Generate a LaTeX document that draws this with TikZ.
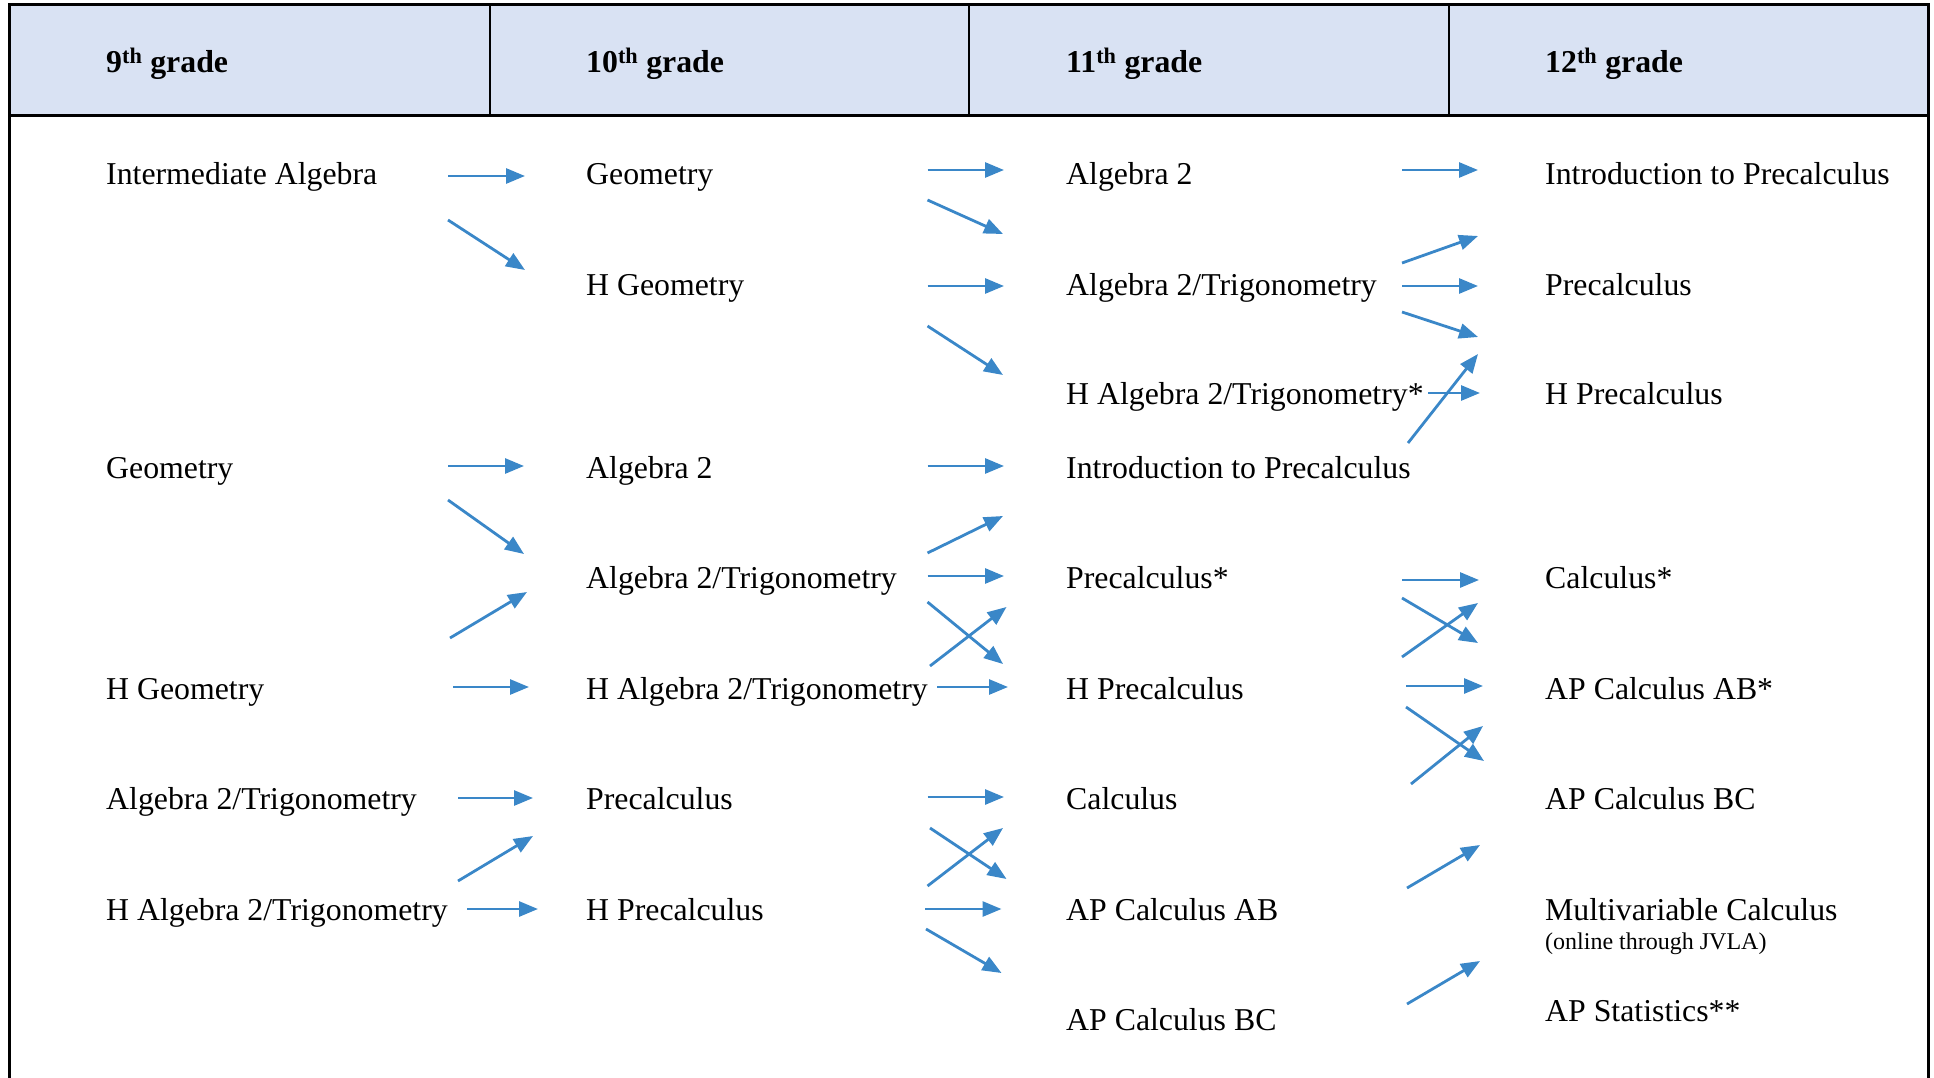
\documentclass[tikz,border=0pt]{standalone}
\usepackage{fontspec}
\setmainfont{Liberation Serif}
\usetikzlibrary{arrows.meta}
\definecolor{hdrfill}{HTML}{D9E2F3}
\definecolor{arblue}{RGB}{58,135,200}
\begin{document}
\begin{tikzpicture}[x=1pt,y=-1pt,
  lbl/.style={anchor=base west,inner sep=0pt,font=\fontsize{31.8}{38}\selectfont},
  smalllbl/.style={anchor=base west,inner sep=0pt,font=\fontsize{24}{28}\selectfont},
  hd/.style={anchor=base west,inner sep=0pt,font=\fontsize{31.8}{38}\selectfont\bfseries},
  arr/.style={draw=arblue,line width=2.8pt,-{Triangle[length=19pt,width=15pt]}},
  border/.style={line width=3pt,line cap=rect},
  divider/.style={line width=2pt}]
\useasboundingbox (0,0) rectangle (1934,1078);
% header
\fill[hdrfill] (9.5,5) rectangle (1928,116);
\draw[divider] (489.7,5) -- (489.7,116);
\draw[divider] (969.4,5) -- (969.4,116);
\draw[divider] (1449.2,5) -- (1449.2,116);
\draw[border] (9.5,1080) -- (9.5,5) -- (1928,5) -- (1928,1080);
\draw[border] (9.5,116) -- (1928,116);
\node[hd] (h9)  at (106,73)  {9\textsuperscript{th} grade};
\node[hd] (h10) at (586,73)  {10\textsuperscript{th} grade};
\node[hd] (h11) at (1066,73) {11\textsuperscript{th} grade};
\node[hd] (h12) at (1545,73) {12\textsuperscript{th} grade};
% column 1
\node[lbl] (a1) at (106,185) {Intermediate Algebra};
\node[lbl] (a2) at (106,478) {Geometry};
\node[lbl] (a3) at (106,699) {H Geometry};
\node[lbl] (a4) at (106,809) {Algebra 2/Trigonometry};
\node[lbl] (a5) at (106,920) {H Algebra 2/Trigonometry};
% column 2
\node[lbl] (b1) at (586,185) {Geometry};
\node[lbl] (b2) at (586,295) {H Geometry};
\node[lbl] (b3) at (586,478) {Algebra 2};
\node[lbl] (b4) at (586,588) {Algebra 2/Trigonometry};
\node[lbl] (b5) at (586,699) {H Algebra 2/Trigonometry};
\node[lbl] (b6) at (586,809) {Precalculus};
\node[lbl] (b7) at (586,920) {H Precalculus};
% column 3
\node[lbl] (c1) at (1066,185) {Algebra 2};
\node[lbl] (c2) at (1066,295) {Algebra 2/Trigonometry};
\node[lbl] (c3) at (1066,404) {H Algebra 2/Trigonometry*};
\node[lbl] (c4) at (1066,478) {Introduction to Precalculus};
\node[lbl] (c5) at (1066,588) {Precalculus*};
\node[lbl] (c6) at (1066,699) {H Precalculus};
\node[lbl] (c7) at (1066,809) {Calculus};
\node[lbl] (c8) at (1066,920) {AP Calculus AB};
\node[lbl] (c9) at (1066,1030) {AP Calculus BC};
% column 4
\node[lbl] (d1) at (1545,185) {Introduction to Precalculus};
\node[lbl] (d2) at (1545,295) {Precalculus};
\node[lbl] (d3) at (1545,404) {H Precalculus};
\node[lbl] (d4) at (1545,588) {Calculus*};
\node[lbl] (d5) at (1545,699) {AP Calculus AB*};
\node[lbl] (d6) at (1545,809) {AP Calculus BC};
\node[lbl] (d7) at (1545,920) {Multivariable Calculus};
\node[smalllbl] (d7b) at (1545,949) {(online through JVLA)};
\node[lbl] (d8) at (1545,1021) {AP Statistics**};
% arrows
\foreach \n/\xa/\ya/\xb/\yb in {
  p1/448/176/525/176, p2/448/220/525/270, p3/448/466/524/466,
  p4/448/500/524/554, p5/450/638/527/592, p6/453/687/529/687,
  p7/458/798/533/798, p8/458/881/533/836, p9/467/909/538/909,
  q1/927.5/170/1004/170, q2/927.5/200/1003/234, q3/927.5/286/1004/286,
  q4/927.5/326/1003/375, q5/927.5/466/1004/466, q6/927.5/553/1003/516,
  q7/927.5/576/1004/576, q8/927.5/602/1003/664, q9/930/666/1006.5/607,
  q10/937/687/1008/687, q11/927.5/797/1004/797, q12/930/828/1006.5/879,
  q13/927.5/886/1003/828, q14/925/909/1001.5/909, q15/926/929/1001.5/973,
  r1/1402/170/1478/170, r2/1402/263/1478/236, r3/1402/286/1478/286,
  r4/1402/312/1478/337, r5/1428/393/1480/393, r6/1408/443/1478/354,
  r7/1402/580/1479/580, r8/1402/598/1478/643, r9/1402/657/1478/603,
  r10/1406/686/1483/686, r11/1406/707/1484/761, r12/1411/784/1483/726,
  r13/1407/888/1480/845, r14/1407/1004/1480/961}
{
  \coordinate (s\n) at (\xa,\ya);
  \coordinate (e\n) at (\xb,\yb);
  \draw[arr] (s\n) -- (e\n);
}
\end{tikzpicture}
\end{document}
